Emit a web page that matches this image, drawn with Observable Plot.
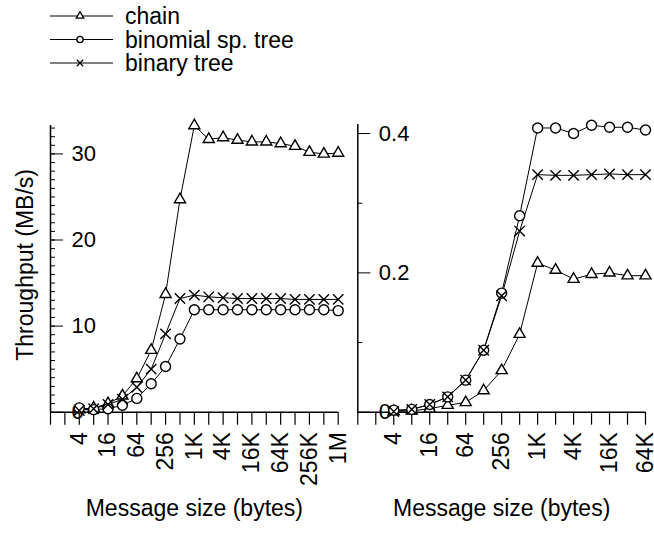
<!DOCTYPE html>
<html><head><meta charset="utf-8">
<script src="https://cdn.jsdelivr.net/npm/d3@7"></script>
<script src="https://cdn.jsdelivr.net/npm/@observablehq/plot@0.6"></script>
<style>
body{margin:0;background:#fff;}
#root{position:relative;width:654px;height:533px;font-family:"Liberation Sans",Arial,sans-serif;}
#root > svg{position:absolute;overflow:visible;}
</style></head><body><div id="root"></div>
<script>
// ---------- data ----------
const seriesNames = ["chain", "binomial sp. tree", "binary tree"];

const leftSizes = [4, 8, 16, 32, 64, 128, 256, 512, 1024, 2048, 4096, 8192, 16384, 32768, 65536, 131072, 262144, 524288, 1048576];
const leftChain    = [0.3, 0.5, 1.0, 1.9, 3.9, 7.2, 13.7, 24.7, 33.3, 31.7, 31.9, 31.6, 31.4, 31.4, 31.2, 30.9, 30.2, 30.0, 30.1];
const leftBinomial = [0.5, 0.3, 0.4, 0.8, 1.6, 3.3, 5.3, 8.5, 11.9, 11.9, 11.9, 11.9, 11.9, 11.9, 11.9, 11.9, 11.9, 11.9, 11.8];
const leftBinary   = [0.2, 0.4, 0.9, 1.5, 2.9, 5.0, 9.1, 13.2, 13.6, 13.4, 13.3, 13.2, 13.2, 13.2, 13.2, 13.1, 13.1, 13.1, 13.1];

const rightSizes = [4, 8, 16, 32, 64, 128, 256, 512, 1024, 2048, 4096, 8192, 16384, 32768, 65536];
const rightChain    = [0.001, 0.002, 0.005, 0.010, 0.014, 0.031, 0.060, 0.112, 0.214, 0.204, 0.191, 0.198, 0.200, 0.196, 0.196];
const rightBinomial = [0.003, 0.004, 0.011, 0.022, 0.046, 0.089, 0.171, 0.282, 0.408, 0.408, 0.400, 0.412, 0.409, 0.409, 0.405];
const rightBinary   = [0.001, 0.004, 0.011, 0.022, 0.046, 0.089, 0.167, 0.260, 0.341, 0.340, 0.340, 0.341, 0.342, 0.341, 0.341];

const leftTickValues = [4, 16, 64, 256, 1024, 4096, 16384, 65536, 262144, 1048576];
const leftTickLabels = ["4", "16", "64", "256", "1K", "4K", "16K", "64K", "256K", "1M"];
const rightTickValues = [4, 16, 64, 256, 1024, 4096, 16384, 65536];
const rightTickLabels = ["4", "16", "64", "256", "1K", "4K", "16K", "64K"];

const leftYMajor = [0, 10, 20, 30];
const leftYLabels = ["0", "10", "20", "30"];
const rightYMajor = [0, 0.2, 0.4];
const rightYLabels = ["0", "0.2", "0.4"];
const rightYMinor = [0.1, 0.3];

const yTitle = "Throughput (MB/s)";
const xTitle = "Message size (bytes)";

// ---------- layout ----------
const FONT = "Liberation Sans, Arial, sans-serif";
const FS = 23;
const FS_Y = 22;
const root = document.getElementById("root");

function panel({sizes, chain, binomial, binary, tickValues, tickLabels, xMax, yMax, yMajor, yLabels, yMinor,
                left, width, marginLeft, marginRight, marginTop, showYTitle}) {
  const rows = sizes.map((s, i) => ({size: s, chain: chain[i], binomial: binomial[i], binary: binary[i]}));
  const marginBottom = 533 - 411.7;
  const frameW = width - marginLeft - marginRight;
  const labelMap = new Map(tickValues.map((v, i) => [v, tickLabels[i]]));
  const allTicks = d3.range(0, Math.round(Math.log2(xMax)) + 1).map(e => 2 ** e);
  const marks = [
    Plot.ruleY([0], {stroke: "black", strokeWidth: 1.5}),
    Plot.ruleX([1], {stroke: "black", strokeWidth: 1.5}),
    Plot.tickY(yMinor, {y: d => d, stroke: "black", strokeWidth: 1, insetRight: frameW - 5}),
    Plot.tickY(yMajor, {y: d => d, stroke: "black", strokeWidth: 1, insetRight: frameW - 13}),
    Plot.text(yMajor, {y: d => d, text: (d, i) => yLabels[i], frameAnchor: "left", dx: 21, textAnchor: "start",
                       fontSize: FS_Y, fill: "black"}),
    Plot.axisX({ticks: allTicks, tickSize: 13, tickPadding: 7, tickRotate: -90, strokeWidth: 1.2,
                tickFormat: d => labelMap.get(d) ?? "", fontSize: FS, label: null, fill: "black"}),
    Plot.text([xTitle], {frameAnchor: "bottom", dy: 104, fontSize: FS, fill: "black", textAnchor: "middle"}),
    Plot.line(rows, {x: "size", y: "chain", stroke: "black", strokeWidth: 1}),
    Plot.line(rows, {x: "size", y: "binomial", stroke: "black", strokeWidth: 1}),
    Plot.line(rows, {x: "size", y: "binary", stroke: "black", strokeWidth: 1}),
    Plot.dot(rows, {x: "size", y: "chain", symbol: "triangle", r: 4.1, fill: "white", stroke: "black", strokeWidth: 1.4}),
    Plot.dot(rows, {x: "size", y: "binomial", symbol: "circle", r: 5, fill: "white", stroke: "black", strokeWidth: 1.4}),
    Plot.dot(rows, {x: "size", y: "binary", symbol: "times", r: 4.8, stroke: "black", strokeWidth: 1.4})
  ];
  if (showYTitle) {
    marks.push(Plot.text([yTitle], {frameAnchor: "left", dx: -25, dy: -4, rotate: -90, fontSize: FS, fill: "black", textAnchor: "middle"}));
  }
  const svg = Plot.plot({
    width, height: 533, marginLeft, marginRight, marginTop, marginBottom,
    x: {type: "log", base: 2, domain: [1, xMax], axis: null},
    y: {domain: [0, yMax], axis: null},
    style: {fontFamily: FONT, fontSize: FS + "px", color: "black", background: "transparent", overflow: "visible"},
    marks
  });
  svg.style.left = left + "px";
  svg.style.top = "0px";
  root.appendChild(svg);
}

panel({sizes: leftSizes, chain: leftChain, binomial: leftBinomial, binary: leftBinary,
       tickValues: leftTickValues, tickLabels: leftTickLabels, xMax: 1048576, yMax: 33.3,
       yMajor: leftYMajor, yLabels: leftYLabels, yMinor: d3.range(1, 34),
       left: 0, width: 350, marginLeft: 50, marginRight: 12.3, marginTop: 125, showYTitle: true});

panel({sizes: rightSizes, chain: rightChain, binomial: rightBinomial, binary: rightBinary,
       tickValues: rightTickValues, tickLabels: rightTickLabels, xMax: 65536, yMax: 0.413,
       yMajor: rightYMajor, yLabels: rightYLabels, yMinor: rightYMinor,
       left: 350, width: 304, marginLeft: 7.3, marginRight: 9, marginTop: 124, showYTitle: false});

// ---------- legend ----------
const leg = d3.create("svg").attr("width", 654).attr("height", 90).style("left", "0px").style("top", "0px")
  .style("position", "absolute");
const legSymbols = [d3.symbolTriangle, d3.symbolCircle, d3.symbolTimes];
const legSizes = [24, 30, 28];
seriesNames.forEach((name, i) => {
  const y = 16 + i * 23.5;
  const g = leg.append("g");
  g.append("line").attr("x1", 50).attr("x2", 113).attr("y1", y).attr("y2", y).attr("stroke", "black").attr("stroke-width", 1);
  g.append("path").attr("d", d3.symbol(legSymbols[i], legSizes[i])()).attr("transform", `translate(80,${y})`)
    .attr("fill", i === 2 ? "none" : "white").attr("stroke", "black").attr("stroke-width", 1.3);
  g.append("text").attr("x", 125).attr("y", y).attr("dy", "0.35em").attr("font-family", FONT).attr("font-size", FS)
    .attr("fill", "black").text(name);
});
root.appendChild(leg.node());
</script></body></html>
